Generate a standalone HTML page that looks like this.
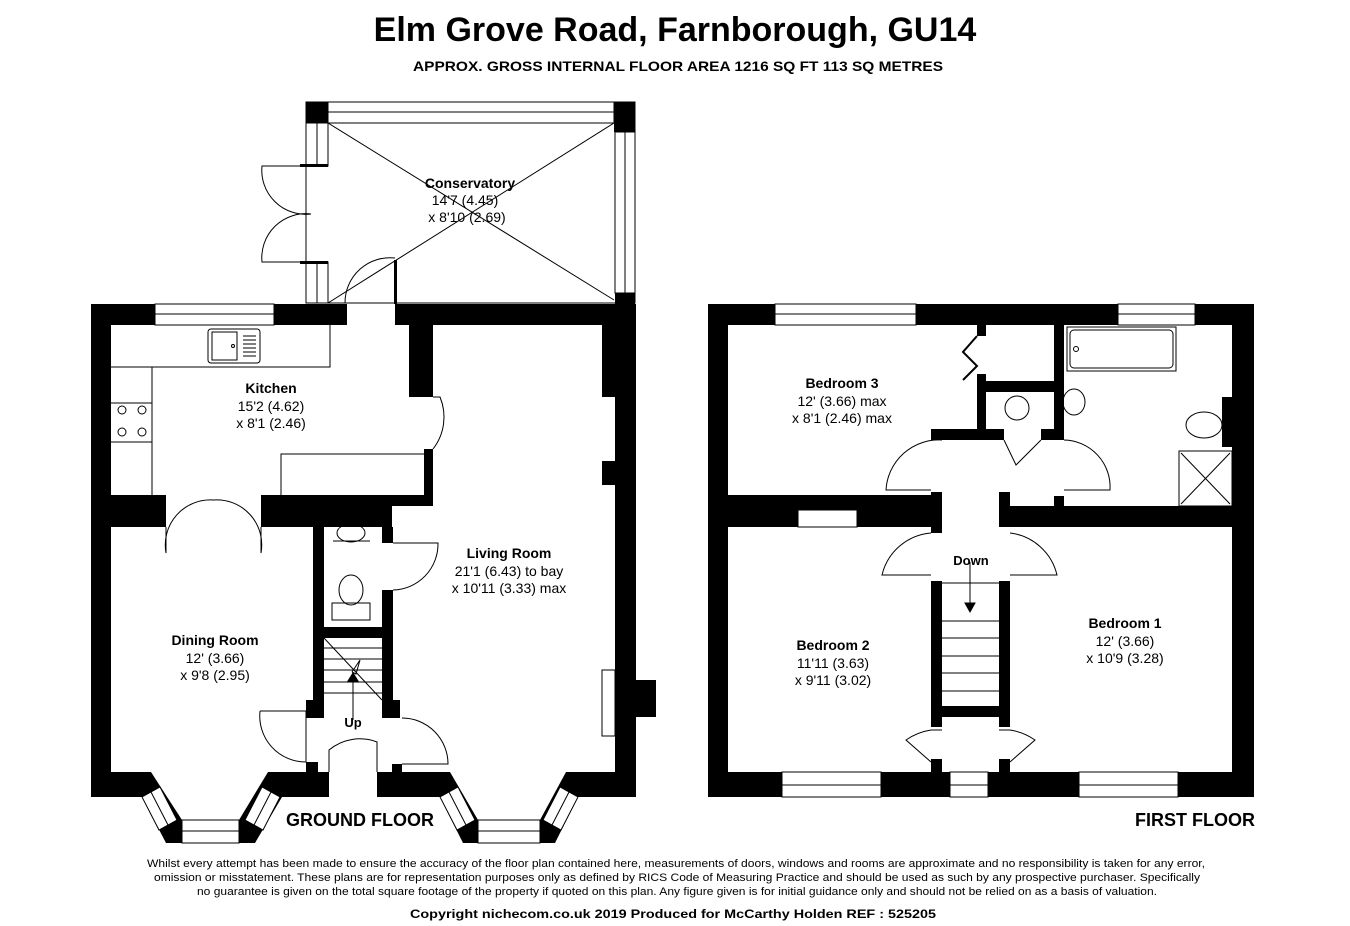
<!DOCTYPE html>
<html><head><meta charset="utf-8"><style>
html,body{margin:0;padding:0;background:#fff;}
svg{display:block;font-family:"Liberation Sans",Arial,sans-serif;}
</style></head><body>
<svg width="1350" height="926" viewBox="0 0 1350 926" xmlns="http://www.w3.org/2000/svg">
<rect width="1350" height="926" fill="#fff"/>
<text x="675" y="41" text-anchor="middle" font-size="34" font-weight="bold">Elm Grove Road, Farnborough, GU14</text>
<text x="678" y="71" text-anchor="middle" font-size="14" font-weight="bold" textLength="530" lengthAdjust="spacingAndGlyphs">APPROX. GROSS INTERNAL FLOOR AREA 1216 SQ FT 113 SQ METRES</text>

<g fill="none" stroke="#000" stroke-width="1">
<rect x="306" y="102" width="329" height="201" fill="#fff"/>
<line x1="328" y1="123" x2="614" y2="300"/>
<line x1="614" y1="123" x2="328" y2="303"/>
<rect x="328" y="102" width="286" height="21"/>
<line x1="328" y1="112" x2="614" y2="112"/>
<rect x="615" y="132" width="20" height="161"/>
<line x1="625" y1="132" x2="625" y2="293"/>
<rect x="306" y="123" width="22" height="43"/><line x1="317" y1="123" x2="317" y2="166"/>
<rect x="306" y="262" width="22" height="41"/><line x1="317" y1="262" x2="317" y2="303"/>
<path d="M306 166 H262 A44 44 0 0 0 311 214 M306 262 H262 A44 44 0 0 1 311 214"/>
<path d="M345 303 A45 45 0 0 1 395 258"/>
</g>
<g fill="#000">
<rect x="306" y="102" width="22" height="21"/>
<rect x="614" y="102" width="21" height="30"/>
<rect x="615" y="293" width="20" height="12"/>
<rect x="394" y="260" width="3" height="44"/>
<rect x="300" y="164" width="28" height="3"/><rect x="300" y="261" width="28" height="3"/>
</g>

<!-- GROUND FLOOR -->
<g fill="#000">
<rect x="91" y="304" width="64" height="21"/>
<rect x="274" y="304" width="73" height="21"/>
<rect x="395" y="304" width="241" height="21"/>
<rect x="91" y="304" width="20" height="493"/>
<rect x="615" y="304" width="21" height="493"/>
<rect x="636" y="680" width="20" height="37"/>
<rect x="602" y="325" width="13" height="72"/>
<rect x="602" y="461" width="13" height="24"/>
<rect x="409" y="325" width="24" height="72"/>
<rect x="424" y="449" width="9" height="57"/>
<rect x="111" y="495" width="55" height="32"/>
<rect x="261" y="495" width="131" height="32"/>
<rect x="392" y="495" width="41" height="11"/>
<rect x="313" y="527" width="11" height="184"/>
<rect x="382" y="527" width="11" height="16"/>
<rect x="382" y="590" width="11" height="121"/>
<rect x="324" y="627" width="58" height="11"/>
<rect x="306" y="700" width="18" height="18"/>
<rect x="382" y="700" width="18" height="18"/>
<rect x="306" y="762" width="12" height="12"/>
<rect x="392" y="764" width="10" height="10"/>
<polygon points="91,772 151,772 182,820 239,820 268,772 329,772 329,797 282,797 255,843 166,843 142,797 91,797"/>
<polygon points="377,772 450,772 478,820 540,820 566,772 636,772 636,797 578,797 555,843 463,843 440,797 377,797"/>
</g>
<g fill="#fff" stroke="#000" stroke-width="1">
<rect x="155" y="304" width="119" height="21"/>
<line x1="155" y1="314" x2="274" y2="314"/>
<rect x="182" y="820" width="57" height="23"/><line x1="182" y1="831" x2="239" y2="831"/>
<rect x="478" y="820" width="62" height="23"/><line x1="478" y1="831" x2="540" y2="831"/>
<polygon points="142,797 160,787 177,820 159,830"/><line x1="151" y1="792" x2="168" y2="825"/>
<polygon points="245,820 263,830 280,797 262,787"/><line x1="254" y1="825" x2="271" y2="792"/>
<polygon points="440,797 458,787 475,820 457,830"/><line x1="449" y1="792" x2="466" y2="825"/>
<polygon points="543,820 561,830 578,797 560,787"/><line x1="552" y1="825" x2="569" y2="792"/>
</g>
<g fill="none" stroke="#000" stroke-width="1">
<path d="M111 367 H330 V325"/>
<path d="M152 367 V495"/>
<path d="M281 495 V454 H424"/>
<rect x="208" y="329" width="52" height="34" rx="3"/>
<rect x="212" y="332" width="25" height="28"/>
<circle cx="233" cy="346" r="1.5"/>
<path d="M243 336 h13 M243 340 h13 M243 344 h13 M243 348 h13 M243 352 h13 M243 356 h13"/>
<path d="M111 403 H152 M111 442 H152"/>
<circle cx="122" cy="410" r="4"/><circle cx="142" cy="410" r="4"/>
<circle cx="122" cy="432" r="4"/><circle cx="142" cy="432" r="4"/>
<path d="M433 397 H440 A52 52 0 0 1 433 449"/>
<path d="M166 527 V553 A45 45 0 0 1 213 500 A45 45 0 0 1 261 553 V527"/>
<path d="M393 543 L438 543 A46 46 0 0 1 393 590"/>
<path d="M260 711 H306 V762 A46 46 0 0 1 260 711"/>
<path d="M402 718 A46 46 0 0 1 448 764 H402"/>
<path d="M329 772 V750 A48 48 0 0 1 377 742 V772"/>
<ellipse cx="351" cy="533" rx="14" ry="9"/>
<path d="M333 541 H370"/>
<ellipse cx="351" cy="590" rx="12" ry="15"/>
<rect x="332" y="603" width="38" height="17"/>
<path d="M324 648 H382 M324 659 H382 M324 670 H382 M324 682 H382 M324 693 H382"/>
<line x1="324" y1="638" x2="382" y2="700"/>
<path d="M352 672 L360 660 L356 674 L352 672"/>
<line x1="353" y1="681" x2="353" y2="720"/>
<polygon points="348,681 358,681 353,673" fill="#000"/>
<rect x="602" y="670" width="13" height="66"/>
</g>
<text x="215" y="645" text-anchor="middle" font-size="14" font-weight="bold">Dining Room</text>
<text x="215" y="663" text-anchor="middle" font-size="14">12' (3.66)</text>
<text x="215" y="680" text-anchor="middle" font-size="14">x 9'8 (2.95)</text>
<text x="271" y="393" text-anchor="middle" font-size="14" font-weight="bold">Kitchen</text>
<text x="271" y="411" text-anchor="middle" font-size="14">15'2 (4.62)</text>
<text x="271" y="428" text-anchor="middle" font-size="14">x 8'1 (2.46)</text>
<text x="509" y="558" text-anchor="middle" font-size="14" font-weight="bold">Living Room</text>
<text x="509" y="576" text-anchor="middle" font-size="14">21'1 (6.43) to bay</text>
<text x="509" y="593" text-anchor="middle" font-size="14">x 10'11 (3.33) max</text>
<text x="470" y="188" text-anchor="middle" font-size="14" font-weight="bold">Conservatory</text>
<text x="465" y="205" text-anchor="middle" font-size="14">14'7 (4.45)</text>
<text x="467" y="222" text-anchor="middle" font-size="14">x 8'10 (2.69)</text>
<text x="353" y="727" text-anchor="middle" font-size="13" font-weight="bold">Up</text>
<text x="360" y="826" text-anchor="middle" font-size="18" font-weight="bold">GROUND FLOOR</text>

<!-- FIRST FLOOR -->
<g fill="#000">
<rect x="708" y="304" width="546" height="21"/>
<rect x="708" y="772" width="546" height="25"/>
<rect x="708" y="304" width="20" height="493"/>
<rect x="1232" y="304" width="22" height="493"/>
<rect x="728" y="495" width="213" height="32"/>
<rect x="999" y="506" width="233" height="21"/>
<rect x="931" y="492" width="11" height="41"/>
<rect x="999" y="492" width="11" height="14"/>
<rect x="931" y="581" width="11" height="146"/>
<rect x="999" y="581" width="11" height="146"/>
<rect x="942" y="706" width="57" height="11"/>
<rect x="931" y="759" width="11" height="13"/>
<rect x="999" y="759" width="11" height="13"/>
<rect x="977" y="325" width="9" height="11"/>
<rect x="977" y="374" width="9" height="66"/>
<rect x="986" y="381" width="68" height="11"/>
<rect x="1054" y="325" width="10" height="115"/>
<rect x="1054" y="496" width="10" height="10"/>
<rect x="931" y="429" width="73" height="11"/>
<rect x="1041" y="429" width="23" height="11"/>
<rect x="1222" y="397" width="10" height="50"/>
</g>
<g fill="#fff" stroke="#000" stroke-width="1">
<rect x="775" y="304" width="141" height="21"/><line x1="775" y1="314" x2="916" y2="314"/>
<rect x="1118" y="304" width="77" height="21"/><line x1="1118" y1="314" x2="1195" y2="314"/>
<rect x="782" y="772" width="99" height="25"/><line x1="782" y1="785" x2="881" y2="785"/>
<rect x="950" y="772" width="38" height="25"/><line x1="950" y1="785" x2="988" y2="785"/>
<rect x="1079" y="772" width="99" height="25"/><line x1="1079" y1="785" x2="1178" y2="785"/>
<rect x="798" y="510" width="59" height="17"/>
</g>
<g fill="none" stroke="#000" stroke-width="1">
<rect x="1067" y="327" width="109" height="44"/>
<rect x="1070" y="330" width="103" height="38" rx="4"/>
<circle cx="1076" cy="349" r="2.5"/>
<ellipse cx="1074" cy="402" rx="11" ry="13"/>
<ellipse cx="1204" cy="425" rx="18" ry="13"/>
<rect x="1179" y="451" width="53" height="55"/>
<line x1="1181" y1="453" x2="1230" y2="504"/><line x1="1230" y1="453" x2="1181" y2="504"/>
<circle cx="1017" cy="408" r="12"/>
<path d="M942 440 A53 53 0 0 0 886 490 H931"/>
<path d="M1064 440 A47 47 0 0 1 1110 490 H1064"/>
<path d="M1004 440 L1016 465 L1041 440"/>
<path d="M977 336 L963 352 L977 366 L963 380" stroke-width="2"/>
<path d="M931 533 A55 55 0 0 0 882 575 H931 M1010 533 A55 55 0 0 1 1057 575 H1010"/>
<path d="M942 583 H999"/>
<path d="M942 621 H999 M942 638 H999 M942 656 H999 M942 673 H999 M942 691 H999"/>
<line x1="970" y1="562" x2="970" y2="608"/>
<polygon points="965,603 975,603 970,612" fill="#000"/>
<path d="M931 730 H942 M999 730 H1010 M931 730 A60 60 0 0 0 906 740 L931 762 M1010 730 A60 60 0 0 1 1035 740 L1010 762"/>
</g>
<text x="842" y="388" text-anchor="middle" font-size="14" font-weight="bold">Bedroom 3</text>
<text x="842" y="406" text-anchor="middle" font-size="14">12' (3.66) max</text>
<text x="842" y="423" text-anchor="middle" font-size="14">x 8'1 (2.46) max</text>
<text x="833" y="650" text-anchor="middle" font-size="14" font-weight="bold">Bedroom 2</text>
<text x="833" y="668" text-anchor="middle" font-size="14">11'11 (3.63)</text>
<text x="833" y="685" text-anchor="middle" font-size="14">x 9'11 (3.02)</text>
<text x="1125" y="628" text-anchor="middle" font-size="14" font-weight="bold">Bedroom 1</text>
<text x="1125" y="646" text-anchor="middle" font-size="14">12' (3.66)</text>
<text x="1125" y="663" text-anchor="middle" font-size="14">x 10'9 (3.28)</text>
<text x="971" y="565" text-anchor="middle" font-size="13" font-weight="bold">Down</text>
<text x="1195" y="826" text-anchor="middle" font-size="18" font-weight="bold">FIRST FLOOR</text>

<text x="676" y="867" text-anchor="middle" font-size="11" textLength="1058" lengthAdjust="spacingAndGlyphs">Whilst every attempt has been made to ensure the accuracy of the floor plan contained here, measurements of doors, windows and rooms are approximate and no responsibility is taken for any error,</text>
<text x="677" y="881" text-anchor="middle" font-size="11" textLength="1046" lengthAdjust="spacingAndGlyphs">omission or misstatement. These plans are for representation purposes only as defined by RICS Code of Measuring Practice and should be used as such by any prospective purchaser.  Specifically</text>
<text x="677" y="895" text-anchor="middle" font-size="11" textLength="960" lengthAdjust="spacingAndGlyphs">no guarantee is given on the total square footage of the property if quoted on this plan. Any figure given is for initial guidance only and should not be relied on as a basis of valuation.</text>
<text x="673" y="918" text-anchor="middle" font-size="12" font-weight="bold" textLength="526" lengthAdjust="spacingAndGlyphs">Copyright nichecom.co.uk 2019    Produced for McCarthy Holden    REF : 525205</text>
</svg>
</body></html>
